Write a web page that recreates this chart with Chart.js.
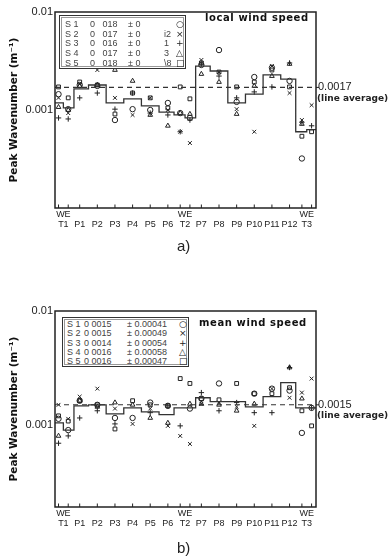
<!DOCTYPE html>
<html><head><meta charset="utf-8">
<script src="https://cdn.jsdelivr.net/npm/chart.js@4.4.1/dist/chart.umd.min.js"></script>
<style>
body{margin:0;background:#fff;width:392px;height:559px;position:relative;overflow:hidden;font-family:"Liberation Sans",Arial,sans-serif;color:#222}
canvas{position:absolute;left:0}
#c1{top:0}
#c2{top:299px}
.lg{position:absolute;border:1px solid #333;box-shadow:inset 0 0 0 1px #fff,inset 0 0 0 2px #999;background:#fff}
.lg span{position:absolute;font-size:9px;line-height:10px;white-space:pre;color:#444}
.lg span.m{font-family:"DejaVu Sans";font-size:9px;color:#222}
.ttl{position:absolute;font-family:"DejaVu Sans";font-weight:bold;font-size:10px;letter-spacing:0.6px;white-space:nowrap;color:#111}
.pl{position:absolute;font-size:15px;color:#222}
</style></head><body>
<canvas id="c1" width="392" height="299"></canvas>
<canvas id="c2" width="392" height="260"></canvas>
<div class="ttl" style="left:205px;top:12px">local wind speed</div>
<div class="ttl" style="left:199px;top:317px">mean wind speed</div>
<div class="pl" style="left:177px;top:237px">a)</div>
<div class="pl" style="left:177px;top:539px">b)</div>
<div id="lg1" class="lg" style="left:59px;top:15px;width:125px;height:52px"></div>
<div id="lg2" class="lg" style="left:62px;top:317px;width:125px;height:48px"></div>
<script>
// stations along the line (W/E sub-positions at the towers)
const stations = ['T1W','T1E','P1','P2','P3','P4','P5','P6','T2W','T2E','P7','P8','P9','P10','P11','P12','T3W','T3E'];
const stationPos = [0.2,0.75,1.4,2.4,3.4,4.4,5.4,6.4,7.1,7.65,8.3,9.3,10.3,11.3,12.3,13.3,14.0,14.55];
const xMin = 0, xMax = 14.8;
// x tick labels
const tickLabelPos = [0.475,1.4,2.4,3.4,4.4,5.4,6.4,7.375,8.3,9.3,10.3,11.3,12.3,13.3,14.275];
const tickLabelTop = ['WE','','','','','','','WE','','','','','','','WE'];
const tickLabels = ['T1','P1','P2','P3','P4','P5','P6','T2','P7','P8','P9','P10','P11','P12','T3'];
const yTickValues = [0.001, 0.01];
const yTickLabels = ['0.001', '0.01'];

// a) local wind speed
const localStep = [0.00118,0.00105,0.00164,0.00180,0.00118,0.00130,0.00110,0.00095,0.00089,0.00083,0.00281,0.00250,0.00118,0.00145,0.00228,0.00207,0.00060,0.00063];
const localAvg = 0.0017;
const localS1 = [0.00145,0.00102,0.00180,0.00176,0.00079,0.00102,0.00100,0.00118,0.00093,0.00083,0.00288,0.00409,0.00121,0.00217,0.00270,0.00198,0.00032,null];
const localS2 = [0.00133,0.00093,0.00184,0.00256,0.00133,0.00089,0.00133,0.00100,0.00060,0.00046,0.00324,0.00244,0.00102,0.00060,0.00281,0.00149,0.00079,0.00112];
const localS3 = [0.00083,0.00081,0.00133,0.00149,0.00102,0.00149,0.00093,0.00089,0.00060,0.00079,0.00295,0.00222,0.00133,0.00153,0.00172,0.00302,0.00075,0.00069];
const localS4 = [0.00107,0.00100,0.00176,0.00180,0.00256,0.00198,0.00089,0.00069,0.00093,0.00091,0.00233,0.00193,0.00091,0.00176,0.00222,0.00295,0.00072,null];
const localS5 = [0.00172,0.00133,0.00193,0.00180,0.00091,0.00149,0.00133,0.00105,0.00172,0.00130,0.00302,0.00244,0.00172,0.00193,0.00256,0.00172,0.00054,0.00060];

// b) mean wind speed
const meanStep = [0.00104,0.00090,0.00147,0.00150,0.00125,0.00141,0.00130,0.00123,0.00141,0.00141,0.00173,0.00160,0.00160,0.00144,0.00177,0.00235,0.00141,0.00141];
const meanAvg = 0.0015;
const meanS1 = [0.00113,0.00090,0.00163,0.00150,0.00115,0.00115,0.00157,0.00147,null,0.00139,0.00170,0.00231,null,0.00188,0.00208,0.00200,0.00085,0.00141];
const meanS2 = [0.00150,0.00113,0.00177,0.00208,0.00139,0.00102,0.00139,0.00098,0.00080,0.00068,0.00153,0.00157,0.00144,0.00098,0.00208,0.00173,0.00192,0.00255];
const meanS3 = [0.00069,0.00080,0.00115,0.00133,0.00102,null,0.00128,0.00147,0.00098,null,0.00192,0.00133,0.00157,0.00128,0.00128,0.00319,null,0.00141];
const meanS4 = [0.00080,null,0.00163,0.00144,0.00157,0.00150,0.00115,0.00104,null,0.00153,0.00153,0.00150,0.00133,0.00153,null,0.00319,0.00170,null];
const meanS5 = [0.00120,0.00108,0.00163,0.00150,0.00092,0.00163,0.00150,0.00147,0.00255,0.00231,0.00170,0.00166,0.00231,0.00188,0.00188,0.00212,0.00133,0.00098];

// legends
const legendNames = ['S 1','S 2','S 3','S 4','S 5'];
const legendMarkers = ['○','×','+','△','□'];
const localLegMean = ['0   018','0   017','0   016','0   017','0   018'];
const localLegStd = ['± 0','± 0','± 0','± 0','± 0'];
const localLegExtra = ['','i2','1','3','\\8'];
const meanLegMean = ['0 0015','0 0015','0 0014','0 0016','0 0016'];
const meanLegStd = ['± 0.00041','± 0.00049','± 0 00054','± 0.00058','± 0.00047'];
const meanLegExtra = ['','','','',''];

const pointStyles = ['circle','crossRot','cross','triangle','rect'];

function buildLegend(id, rowTops, cols, means, stds, extras){
  const el = document.getElementById(id);
  legendNames.forEach((n,i)=>{
    const t = rowTops[i];
    const parts = [[n,cols[0],''],[means[i],cols[1],''],[stds[i],cols[2],''],[extras[i],cols[3],''],[legendMarkers[i],cols[4],'m']];
    parts.forEach(p=>{
      const s=document.createElement('span');
      s.textContent=p[0]; s.style.left=p[1]+'px'; s.style.top=t+'px';
      if(p[2]) s.className=p[2];
      el.appendChild(s);
    });
  });
}
buildLegend('lg1',[3,13,22,32,42],[5,30,68,104,116],localLegMean,localLegStd,localLegExtra);
buildLegend('lg2',[1,10,20,29,38],[4,21,64,64,116],meanLegMean,meanLegStd,meanLegExtra);

const framePlugin = {
  id:'frame',
  afterDatasetsDraw(chart, args, opts){
    const {ctx, chartArea:a, scales:{x,y}} = chart;
    ctx.save();
    ctx.strokeStyle='#222'; ctx.lineWidth=1.5;
    ctx.strokeRect(a.left, a.top, a.right-a.left, a.bottom-a.top);
    ctx.lineWidth=1;
    stationPos.forEach(p=>{
      const px = x.getPixelForValue(p);
      ctx.beginPath(); ctx.moveTo(px, a.bottom); ctx.lineTo(px, a.bottom-3.5); ctx.stroke();
    });
    const yy = y.getPixelForValue(opts.avg);
    ctx.beginPath(); ctx.moveTo(a.right, yy); ctx.lineTo(a.right+3, yy); ctx.stroke();
    ctx.fillStyle='#222'; ctx.textBaseline='middle'; ctx.textAlign='left';
    ctx.font='11px "Liberation Sans"';
    ctx.fillText(opts.avgLabel, a.right+2, yy);
    ctx.font='bold 9px "DejaVu Sans"';
    ctx.fillText('(line average)', a.right+1, yy+11);
    ctx.restore();
  }
};

function makeChart(canvasId, stepVals, avg, avgLabel, series, yMin, pad){
  const datasets = [];
  datasets.push({
    type:'line', data:[{x:xMin,y:stepVals[0]}].concat(stationPos.map((p,i)=>({x:p,y:stepVals[i]}))).concat([{x:xMax,y:stepVals[stepVals.length-1]}]),
    stepped:'middle', borderColor:'#333', borderWidth:1.3, pointRadius:0, fill:false
  });
  datasets.push({
    type:'line', data:[{x:xMin,y:avg},{x:xMax,y:avg}], borderColor:'#333', borderWidth:1.1,
    borderDash:[5,4], pointRadius:0, fill:false
  });
  series.forEach((s,k)=>{
    datasets.push({
      type:'scatter',
      data: stationPos.map((p,i)=>({x:p,y:s[i]})).filter(d=>d.y!==null),
      pointStyle:pointStyles[k], pointRadius:2.7, pointBorderWidth:1,
      borderColor:'#222', backgroundColor:'rgba(255,255,255,0)'
    });
  });
  return new Chart(document.getElementById(canvasId), {
    type:'scatter',
    data:{datasets},
    plugins:[framePlugin],
    options:{
      responsive:false, animation:false, devicePixelRatio:1,
      layout:{padding:pad},
      plugins:{legend:{display:false}, tooltip:{enabled:false}, frame:{avg, avgLabel}},
      scales:{
        x:{type:'linear', min:xMin, max:xMax,
          afterBuildTicks:s=>{s.ticks=tickLabelPos.map(v=>({value:v}));},
          afterFit:s=>{s.height=40;},
          ticks:{autoSkip:false, maxRotation:0, padding:1, color:'#222',
            font:{family:'"Liberation Sans"', size:9, lineHeight:1.15},
            callback:(v,i)=>[tickLabelTop[i], tickLabels[i]]},
          grid:{display:false, drawTicks:false}, border:{display:false}},
        y:{type:'logarithmic', min:yMin, max:0.01,
          afterBuildTicks:s=>{s.ticks=yTickValues.map(v=>({value:v}));},
          afterFit:s=>{s.width=55;},
          ticks:{padding:2, color:'#222', font:{family:'"Liberation Sans"', size:11},
            callback:(v)=>yTickLabels[yTickValues.indexOf(v)]},
          grid:{display:false, drawTicks:false}, border:{display:false},
          title:{display:true, text:'Peak Wavenumber (m⁻¹)', color:'#111',
            font:{family:'"DejaVu Sans"', weight:'bold', size:10.5}, padding:{top:8,bottom:0}}}
      }
    }
  });
}

makeChart('c1', localStep, localAvg, '0.0017', [localS1,localS2,localS3,localS4,localS5], 0.0001, {left:0,right:76,top:12,bottom:51});
makeChart('c2', meanStep, meanAvg, '0.0015', [meanS1,meanS2,meanS3,meanS4,meanS5], 0.00019, {left:0,right:76,top:12,bottom:12});
</script>
</body></html>
